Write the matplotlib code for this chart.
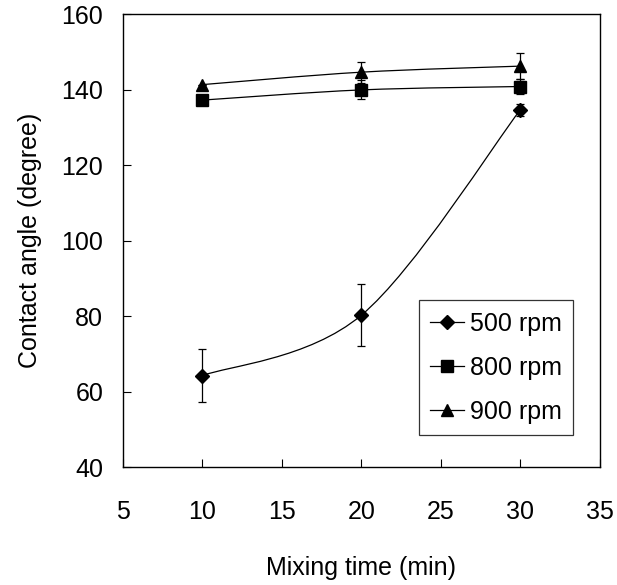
import numpy as np
import matplotlib
matplotlib.use("Agg")
import matplotlib.pyplot as plt
from matplotlib.path import Path
from matplotlib.patches import PathPatch

plt.rcParams['font.family'] = ['Liberation Sans', 'DejaVu Sans']

time = [10, 20, 30]
rpm500 = [64.2, 80.2, 134.6]
err500 = [7.0, 8.2, 1.5]
rpm800 = [137.2, 139.9, 140.8]
err800 = [0.0, 2.5, 2.0]
rpm900 = [141.3, 144.6, 146.2]
err900 = [0.0, 2.8, 3.5]

series = [
    ("500 rpm", rpm500, err500, "D", 7),
    ("800 rpm", rpm800, err800, "s", 8),
    ("900 rpm", rpm900, err900, "^", 9),
]


def smooth_path(x, y):
    # Excel-like smoothed line: Catmull-Rom as cubic bezier segments
    pts = np.column_stack([x, y]).astype(float)
    ext = np.vstack([pts[0], pts, pts[-1]])
    verts = [pts[0]]
    codes = [Path.MOVETO]
    for i in range(1, len(ext) - 2):
        p0, p1, p2, p3 = ext[i - 1], ext[i], ext[i + 1], ext[i + 2]
        c1 = p1 + (p2 - p0) / 6.0
        c2 = p2 - (p3 - p1) / 6.0
        verts += [c1, c2, p2]
        codes += [Path.CURVE4] * 3
    return Path(verts, codes)


fig = plt.figure(figsize=(6.17, 5.85), dpi=100)
ax = fig.add_axes([0.199, 0.2017, 0.773, 0.7743])

handles = []
for label, vals, errs, mk, ms in series:
    ax.add_patch(PathPatch(smooth_path(time, vals), facecolor="none",
                           edgecolor="black", lw=0.9, zorder=2))
    ax.errorbar(time, vals, yerr=errs, fmt="none", ecolor="black",
                elinewidth=0.9, capsize=3, capthick=0.9, zorder=3)
    ax.plot(time, vals, linestyle="none", marker=mk, markersize=ms,
            markerfacecolor="black", markeredgecolor="black", zorder=4)
    handles.append(ax.plot([], [], linestyle="-", color="black", lw=0.9,
                           marker=mk, markersize=ms, label=label)[0])

ax.set_xlim(5, 35)
ax.set_ylim(40, 160)
ax.set_xticks([5, 10, 15, 20, 25, 30, 35])
ax.set_yticks([40, 60, 80, 100, 120, 140, 160])
ax.tick_params(direction="in", length=6, width=0.8, labelsize=18)
ax.tick_params(axis="x", pad=24)
ax.tick_params(axis="y", pad=14)
for s in ax.spines.values():
    s.set_linewidth(1.0)

ax.set_xlabel("Mixing time (min)", fontsize=18)
ax.set_ylabel("Contact angle (degree)", fontsize=18)
ax.xaxis.set_label_coords(0.5, -0.197)
ax.yaxis.set_label_coords(-0.17, 0.5)

leg = ax.legend(handles=handles, loc="lower right",
                bbox_to_anchor=(0.945, 0.071), borderaxespad=0,
                fontsize=18, fancybox=False, frameon=True,
                handlelength=1.35, handletextpad=0.25,
                labelspacing=0.8, borderpad=0.45)
leg.get_frame().set_edgecolor("black")
leg.get_frame().set_linewidth(0.9)

fig.savefig("out.png", dpi=100)
